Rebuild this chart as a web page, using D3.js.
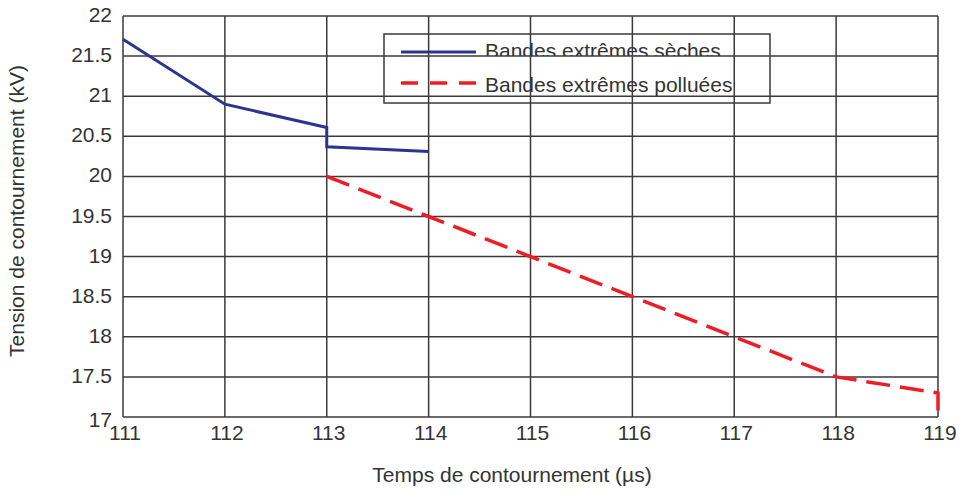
<!DOCTYPE html>
<html>
<head>
<meta charset="utf-8">
<script src="https://cdn.jsdelivr.net/npm/d3@7/dist/d3.min.js"></script>
<style>
  body { margin: 0; background: #fff; }
  svg { display: block; font-family: "Liberation Sans", Arial, sans-serif; }
</style>
</head>
<body>
<svg id="chart" width="959" height="491"></svg>
<script>
// data
const xTicks = [111, 112, 113, 114, 115, 116, 117, 118, 119];
const yTicks = [17, 17.5, 18, 18.5, 19, 19.5, 20, 20.5, 21, 21.5, 22];

const secheX = [111, 112, 113, 113, 114];
const secheY = [21.71, 20.9, 20.61, 20.37, 20.31];

const pollueeX = [113, 114, 115, 116, 117, 118, 119, 119];
const pollueeY = [20, 19.5, 19, 18.5, 18, 17.5, 17.3, 17.08];

const seriesNames = ["Bandes extrêmes sèches", "Bandes extrêmes polluées"];

const svg = d3.select("#chart");
const plotL = 123, plotR = 938, plotT = 16, plotB = 417;

const x = d3.scaleLinear().domain([111, 119]).range([plotL, plotR]);
const y = d3.scaleLinear().domain([17, 22]).range([plotB, plotT]);

const gridColor = "#3a3a3a";
const textColor = "#333";
const fontSize = "21px";

// legend text (drawn first, the grid runs over it and cuts its bottom like in the source)
const defs = svg.append("defs");
const legendItems = [
  { name: seriesNames[0], color: "#2b3590", dash: null, width: 3, cut: 21.5, ty: 58 },
  { name: seriesNames[1], color: "#ee1c25", dash: "17,12", width: 3.5, cut: 21, ty: 92 }
];
const legend = svg.append("g");
legendItems.forEach((d, i) => {
  defs.append("clipPath").attr("id", "lc" + i)
    .append("rect")
    .attr("x", 380).attr("y", d.ty - 30)
    .attr("width", 400).attr("height", y(d.cut) - (d.ty - 30));
  legend.append("text")
    .attr("x", 485)
    .attr("y", d.ty)
    .attr("clip-path", `url(#lc${i})`)
    .style("font-size", fontSize)
    .style("fill", textColor)
    .text(d.name);
});

// grid lines
const grid = svg.append("g");
grid.selectAll(".hg")
  .data(yTicks)
  .join("line")
  .attr("x1", plotL).attr("x2", plotR)
  .attr("y1", d => y(d)).attr("y2", d => y(d))
  .attr("stroke", gridColor)
  .attr("stroke-width", 1.5);
grid.selectAll(".vg")
  .data(xTicks)
  .join("line")
  .attr("x1", d => x(d)).attr("x2", d => x(d))
  .attr("y1", plotT).attr("y2", plotB)
  .attr("stroke", gridColor)
  .attr("stroke-width", 1.5);

// tick labels
svg.append("g").selectAll("text")
  .data(yTicks)
  .join("text")
  .attr("x", 112)
  .attr("y", d => y(d) + (d === 17 ? 10 : 6))
  .attr("text-anchor", "end")
  .style("font-size", fontSize)
  .style("fill", textColor)
  .text(d => d);

svg.append("g").selectAll("text")
  .data(xTicks)
  .join("text")
  .attr("x", d => x(d) + 2)
  .attr("y", 440)
  .attr("text-anchor", "middle")
  .style("font-size", fontSize)
  .style("fill", textColor)
  .text(d => d);

// axis titles
svg.append("text")
  .attr("x", 512)
  .attr("y", 482)
  .attr("text-anchor", "middle")
  .style("font-size", fontSize)
  .style("fill", textColor)
  .text("Temps de contournement (µs)");

svg.append("text")
  .attr("transform", "translate(24,211) rotate(-90)")
  .attr("text-anchor", "middle")
  .style("font-size", fontSize)
  .style("fill", textColor)
  .text("Tension de contournement (kV)");

// series
const line = d3.line().x(d => x(d[0])).y(d => y(d[1]));

svg.append("path")
  .datum(d3.zip(secheX, secheY))
  .attr("d", line)
  .attr("fill", "none")
  .attr("stroke", "#2b3590")
  .attr("stroke-width", 3);

svg.append("path")
  .datum(d3.zip(pollueeX, pollueeY))
  .attr("d", line)
  .attr("fill", "none")
  .attr("stroke", "#ee1c25")
  .attr("stroke-width", 3.5)
  .attr("stroke-dasharray", "24,10");

// legend frame and line samples
legend.append("rect")
  .attr("x", 384).attr("y", 34)
  .attr("width", 386).attr("height", 69)
  .attr("fill", "none")
  .attr("stroke", gridColor)
  .attr("stroke-width", 1.5);
legendItems.forEach((d, i) => {
  const ly = 52 + i * 31;
  legend.append("line")
    .attr("x1", 401).attr("x2", 476)
    .attr("y1", ly).attr("y2", ly)
    .attr("stroke", d.color)
    .attr("stroke-width", d.width)
    .attr("stroke-dasharray", d.dash);
});
</script>
</body>
</html>
